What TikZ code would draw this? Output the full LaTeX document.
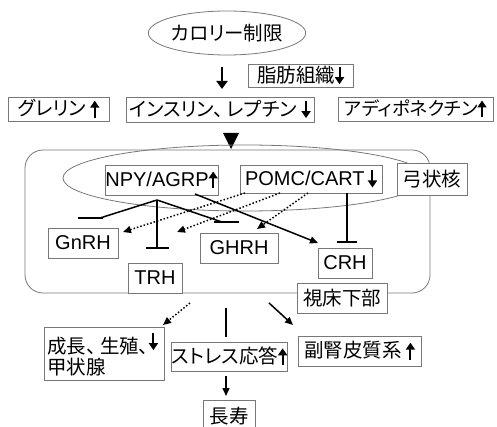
\documentclass[tikz,border=0pt]{standalone}
\usepackage{fontspec}
\setmainfont{Liberation Sans}
\newfontfamily\jp[RawFeature={+palt}]{Noto Sans CJK JP}
\usetikzlibrary{arrows.meta,shapes.geometric}
\newcommand\uar{\tikz[baseline=0pt]\draw[black,line width=2pt,-{Triangle[length=7pt,width=9pt]}] (0pt,-2pt)--(0pt,15pt);}
\newcommand\dar{\tikz[baseline=0pt]\draw[black,line width=2pt,-{Triangle[length=7pt,width=9pt]}] (0pt,15pt)--(0pt,-2pt);}
\newcommand\jcomma{、\hspace{4pt}}
\tikzset{
  box/.style={draw={rgb,255:red,120;green,120;blue,120},line width=0.8pt,fill=white,rectangle,inner sep=2pt,font=\fontsize{20}{23}\selectfont},
  jbox/.style={box,font=\jp\fontsize{19.5}{23}\selectfont},
  conn/.style={black,line width=1.5pt},
  dconn/.style={black,line width=1.5pt,dotted},
  tip/.style={-{Triangle[length=8pt,width=7pt]}},
  thin/.style={draw={rgb,255:red,120;green,120;blue,120},line width=0.8pt}
}
\begin{document}
\begin{tikzpicture}[x=1pt,y=-1pt]
\useasboundingbox (0,0) rectangle (497,427);
% top
\node[jbox,ellipse,minimum width=132,minimum height=44,inner sep=0pt] (cal) at (227,33) {カロリー制限};
\coordinate (a0) at (222,67);
\coordinate (a1) at (222,89);
\draw[black,line width=2.2pt,-{Triangle[length=8pt,width=11pt]}] (a0) -- (a1);
\node[jbox,minimum width=105,minimum height=23,inner sep=0pt] (fat) at (300.5,75.5) {脂肪組織\dar};
\node[jbox,minimum width=101,minimum height=24,inner sep=0pt] (ghr) at (58.5,109) {グレリン \uar};
\node[jbox,minimum width=188,minimum height=25,inner sep=0pt] (ins) at (220,109.5) {インスリン\jcomma レプチン \dar};
\node[jbox,font=\jp\fontsize{18.5}{23}\selectfont,minimum width=155,minimum height=24,inner sep=0pt] (adi) at (415.5,109) {アディポネクチン\uar};
\fill[black] (223,133) -- (239,133) -- (231,149) -- cycle;
% hypothalamus
\node[thin,rounded corners=18pt,minimum width=405,minimum height=143] (hyp) at (227.5,221.5) {};
\node[thin,ellipse,minimum width=364,minimum height=66] (arcell) at (245,178) {};
\node[box,minimum width=113,minimum height=30,inner sep=0pt] (npy) at (161.5,180) {NPY/AGRP\uar};
\node[box,minimum width=142,minimum height=28,inner sep=0pt] (pomc) at (311,179) {POMC/CART\,\dar};
\node[jbox,minimum width=70,minimum height=32] (arc) at (432,179) {弓状核};
\node[box,minimum width=70,minimum height=30] (gnrh) at (83,243) {GnRH};
\node[box,minimum width=54,minimum height=30] (trh) at (155,278) {TRH};
\node[box,minimum width=78,minimum height=30] (ghrh) at (239,248) {GHRH};
\node[box,minimum width=54,minimum height=30] (crh) at (345,263) {CRH};
\node[jbox,minimum width=90,minimum height=30] (hypl) at (342,298) {視床下部};
% NPY inhibitions
\coordinate (n0) at (157,200);
\coordinate (gnT) at (100,218);
\coordinate (gnL) at (78,218);
\coordinate (gnR) at (103,218);
\coordinate (trT) at (157,248);
\coordinate (trL) at (146,248);
\coordinate (trR) at (169,248);
\coordinate (ghT) at (222,222);
\coordinate (ghL) at (214,222);
\coordinate (ghR) at (239,222);
\draw[conn] (n0) -- (gnT);
\draw[conn] (gnL) -- (gnR);
\draw[conn] (n0) -- (trT);
\draw[conn] (trL) -- (trR);
\draw[conn] (n0) -- (ghT);
\draw[conn] (ghL) -- (ghR);
\coordinate (n1) at (195,194);
\coordinate (crT) at (318,243);
\draw[conn,tip] (n1) -- (crT);
% POMC
\coordinate (p1) at (245,193);
\coordinate (p1e) at (123,232);
\coordinate (p2) at (280,193);
\coordinate (p2e) at (177,232);
\coordinate (p3) at (308,193);
\coordinate (p3e) at (257,229);
\draw[dconn,tip] (p1) -- (p1e);
\draw[dconn,tip] (p2) -- (p2e);
\draw[dconn,tip] (p3) -- (p3e);
\coordinate (p4) at (347,193);
\coordinate (p4e) at (347,242);
\coordinate (p4L) at (337,242);
\coordinate (p4R) at (357,242);
\draw[conn] (p4) -- (p4e);
\draw[conn] (p4L) -- (p4R);
% bottom
\node[jbox,minimum width=118,minimum height=53,align=left,anchor=north west,text width=114,inner sep=3pt] (grow) at (44,327) {成長\jcomma 生殖\jcomma\hspace{-4pt}\raisebox{5pt}{\dar}\\[-2pt]甲状腺};
\node[jbox,minimum width=115,minimum height=29,inner sep=0pt] (stress) at (229.5,356.5) {ストレス応答\uar};
\node[jbox,minimum width=123,minimum height=30,inner sep=0pt] (adr) at (359.5,351) {副腎皮質系 \uar};
\node[jbox,minimum width=52,minimum height=32] (long) at (229,416) {長寿};
\coordinate (b1) at (190,303);
\coordinate (b1e) at (163,325);
\draw[dconn,tip] (b1) -- (b1e);
\coordinate (b2) at (226,308);
\coordinate (b2e) at (226,337);
\draw[conn] (b2) -- (b2e);
\coordinate (b3) at (269,303);
\coordinate (b3e) at (293,325);
\draw[conn,tip] (b3) -- (b3e);
\coordinate (b4) at (226,376);
\coordinate (b4e) at (226,396);
\draw[conn,tip] (b4) -- (b4e);
\end{tikzpicture}
\end{document}
